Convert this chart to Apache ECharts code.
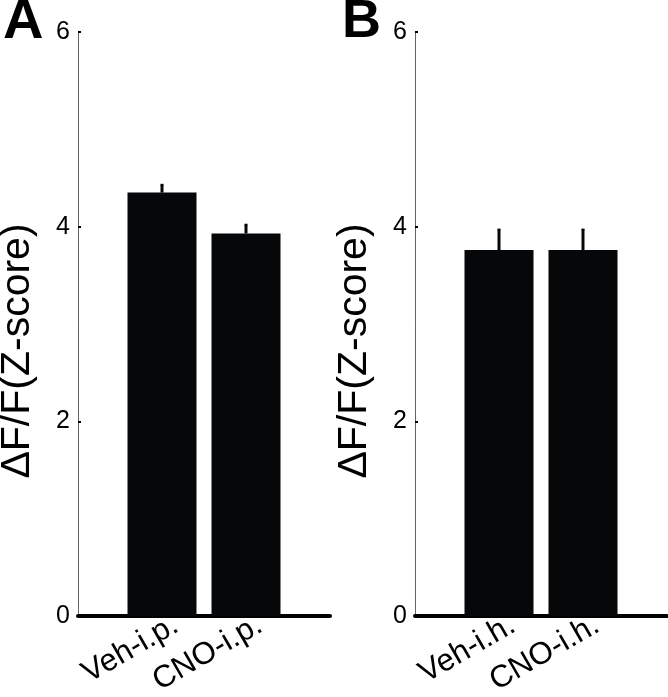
<!DOCTYPE html>
<html>
<head>
<meta charset="utf-8">
<script src="https://cdn.jsdelivr.net/npm/echarts@6/dist/echarts.min.js"></script>
<style>
	html, body { margin: 0; padding: 0; background: #fff; }
	#main { width: 668px; height: 697px; }
</style>
</head>
<body>
<div id="main"></div>
<script>
	// x 轴类别（首尾留空，相当于 xlim [0,3]）
	var catsA = ['', 'Veh-i.p.', 'CNO-i.p.', ''];
	var catsB = ['', 'Veh-i.h.', 'CNO-i.h.', ''];
	// 柱高
	var valsA = [null, 4.35, 3.93, null];
	var valsB = [null, 3.76, 3.76, null];
	// 误差（上半部分）
	var errA = [null, 0.08, 0.09, null];
	var errB = [null, 0.21, 0.21, null];
	var yTicks = [0, 2, 4, 6];

	var font = 'Liberation Sans, Arial, sans-serif';
	var barColor = '#060709';

	function errData(vals, errs) {
		var out = [];
		for (var i = 0; i < vals.length; i++) {
			if (vals[i] != null) out.push([i, vals[i], vals[i] + errs[i]]);
		};
		return out;
	};

	function renderErr(params, api) {
		var p0 = api.coord([api.value(0), api.value(1)]);
		var p1 = api.coord([api.value(0), api.value(2)]);
		return {
			type: 'group',
			children: [{
				type: 'line',
				shape: { x1: p0[0], y1: p0[1], x2: p1[0], y2: p1[1] },
				style: { stroke: barColor, lineWidth: 3 }
			}, {
				type: 'line',
				shape: { x1: p1[0] - 1.5, y1: p1[1], x2: p1[0] + 1.5, y2: p1[1] },
				style: { stroke: barColor, lineWidth: 2 }
			}]
		};
	};

	function xAxisOf(cats, idx) {
		return {
			type: 'category',
			gridIndex: idx,
			data: cats,
			boundaryGap: false,
			axisLine: { lineStyle: { color: '#000', width: 4 } },
			axisTick: { show: false },
			axisLabel: {
				interval: 0,
				rotate: 30,
				margin: 15,
				hideOverlap: false,
				formatter: function(val) {
					return val ? '{t|' + val + '}' : '';
				},
				rich: {
					t: { color: '#000', fontSize: 31, fontFamily: font, padding: [0, -16, 0, 0] }
				}
			},
			splitLine: { show: false }
		};
	};

	function yAxisOf(idx) {
		return {
			type: 'value',
			gridIndex: idx,
			min: yTicks[0],
			max: yTicks[yTicks.length - 1],
			interval: 2,
			name: 'ΔF/F(Z-score)',
			nameLocation: 'middle',
			nameGap: 40,
			nameTextStyle: { color: '#000', fontSize: 41, fontFamily: font, padding: [0, 54, 0, 0] },
			axisLine: { show: true, lineStyle: { color: '#666', width: 1 } },
			axisTick: { show: true, inside: true, length: 3, lineStyle: { color: '#000', width: 2 } },
			axisLabel: { color: '#000', fontSize: 25, fontFamily: font, margin: 8 },
			splitLine: { show: false }
		};
	};

	var myChart = echarts.init(document.getElementById('main'));
	var option = {
		animation: false,
		title: [{
			text: 'A', left: -2, top: -10,
			textStyle: { fontSize: 56, fontWeight: 'bold', color: '#000', fontFamily: font }
		}, {
			text: 'B', left: 337, top: -10,
			textStyle: { fontSize: 54, fontWeight: 'bold', color: '#000', fontFamily: font }
		}],
		grid: [
			{ left: 78, top: 32, width: 252, height: 584, outerBoundsMode: 'none' },
			{ left: 415, top: 32, width: 252, height: 584, outerBoundsMode: 'none' }
		],
		xAxis: [xAxisOf(catsA, 0), xAxisOf(catsB, 1)],
		yAxis: [yAxisOf(0), yAxisOf(1)],
		series: [{
			type: 'bar',
			xAxisIndex: 0, yAxisIndex: 0,
			barWidth: 69,
			itemStyle: { color: barColor },
			data: valsA
		}, {
			type: 'bar',
			xAxisIndex: 1, yAxisIndex: 1,
			barWidth: 69,
			itemStyle: { color: barColor },
			data: valsB
		}, {
			type: 'custom',
			xAxisIndex: 0, yAxisIndex: 0,
			renderItem: renderErr,
			data: errData(valsA, errA),
			z: 3
		}, {
			type: 'custom',
			xAxisIndex: 1, yAxisIndex: 1,
			renderItem: renderErr,
			data: errData(valsB, errB),
			z: 3
		}]
	};
	myChart.setOption(option);
</script>
</body>
</html>
